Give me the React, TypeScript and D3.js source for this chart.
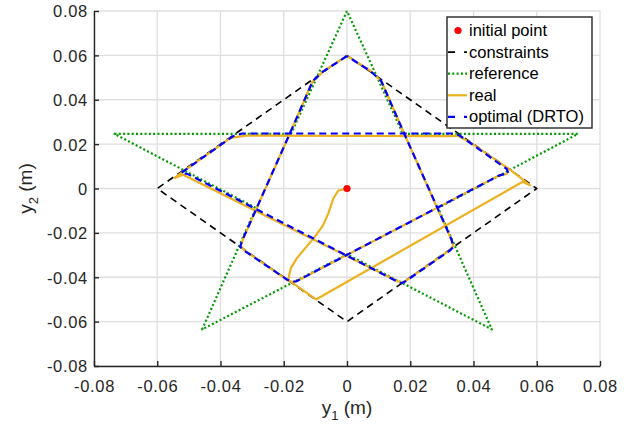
import React, { useEffect, useRef } from 'react';
import * as d3 from 'd3';

type Pt = [number, number];

// axis ticks (both axes share the same range)
const tickValues = [-0.08, -0.06, -0.04, -0.02, 0, 0.02, 0.04, 0.06, 0.08];

const legendLabels = ['initial point', 'constraints', 'reference', 'real', 'optimal (DRTO)'];

const initialPoint: Pt[] = [[0, 0]];

// diamond constraint set
const constraints: Pt[] = [[0, 0.06], [0.06, 0], [0, -0.06], [-0.06, 0], [0, 0.06]];

// star-shaped reference
const reference: Pt[] = [
  [0, 0.08], [-0.0177, 0.0246], [-0.0735, 0.0246], [-0.0288, -0.0088], [-0.0458, -0.0635],
  [0, -0.0297], [0.0458, -0.0635], [0.0288, -0.0088], [0.073, 0.0246], [0.0177, 0.0246], [0, 0.08],
];

// measured trajectory: transient from the initial point, then one lap
const realTransient: Pt[] = [
  [0, 0], [-0.0028, -0.001], [-0.0043, -0.0044], [-0.0059, -0.0112], [-0.0075, -0.0164],
  [-0.0101, -0.0217], [-0.0128, -0.0262], [-0.0159, -0.0315], [-0.0178, -0.036], [-0.0186, -0.0412],
  [-0.0098, -0.05], [0.0555, 0.003], [0.0578, 0.0015],
];

const realLap: Pt[] = [
  [0.0525, 0.0075], [0.039, 0.0208], [0.035, 0.0238], [0.032, 0.0236], [-0.032, 0.0238],
  [-0.0368, 0.0228], [-0.0515, 0.008], [-0.0545, 0.0048], [-0.0518, 0.0062], [0.016, -0.0418],
  [0.0175, -0.0425], [0.019, -0.0412], [0.0325, -0.0278], [0.0336, -0.0258], [0.0328, -0.0225],
  [0.018, 0.025], [0.011, 0.048], [0.0075, 0.053], [0.004, 0.0562], [0, 0.0598],
  [-0.004, 0.0562], [-0.0075, 0.0528], [-0.011, 0.048], [-0.018, 0.025], [-0.0328, -0.0225],
  [-0.0336, -0.0258], [-0.0325, -0.0278], [-0.019, -0.0412], [-0.0172, -0.0422], [-0.0155, -0.0415],
  [0.048, 0.0058], [0.0508, 0.0068],
];

// DRTO optimal path
const optimal: Pt[] = [
  [0, 0.0597], [-0.004, 0.056], [-0.0075, 0.0528], [-0.0108, 0.0485], [-0.018, 0.025],
  [-0.033, -0.023], [-0.0338, -0.0262], [-0.0325, -0.028], [-0.019, -0.041], [-0.0175, -0.042],
  [-0.016, -0.0418], [0.048, 0.0058], [0.051, 0.007], [0.0505, 0.0088], [0.039, 0.0205],
  [0.0355, 0.024], [0.033, 0.0248], [-0.033, 0.0248], [-0.036, 0.0236], [-0.051, 0.0085],
  [-0.0525, 0.007], [-0.0505, 0.0066], [0.016, -0.042], [0.0172, -0.0427], [0.0185, -0.0418],
  [0.0325, -0.028], [0.0337, -0.0262], [0.033, -0.0228], [0.018, 0.025], [0.0108, 0.0485],
  [0.0075, 0.0528], [0.004, 0.056], [0, 0.0597],
];

const W = 628;
const H = 428;
const FONT = '"Liberation Sans", Arial, Helvetica, sans-serif';
const INK = '#262626';

const StarChart: React.FC = () => {
  const svgRef = useRef<SVGSVGElement | null>(null);

  useEffect(() => {
    if (!svgRef.current) return;
    const svg = d3.select(svgRef.current);
    svg.selectAll('*').remove();

    const margin = { top: 11, right: 28, bottom: 62, left: 94 };
    const x = d3.scaleLinear().domain([-0.08, 0.08]).range([margin.left, W - margin.right]);
    const y = d3.scaleLinear().domain([-0.08, 0.08]).range([H - margin.bottom, margin.top]);
    const fmt = (v: number) => (Math.abs(v) < 1e-9 ? '0' : v.toFixed(2));

    svg.append('rect').attr('width', W).attr('height', H).attr('fill', '#fff');

    // grid
    const grid = svg.append('g').attr('stroke', '#dfdfdf').attr('stroke-width', 1.3);
    tickValues.forEach(t => {
      grid.append('line').attr('x1', x(t)).attr('x2', x(t)).attr('y1', y(-0.08)).attr('y2', y(0.08));
      grid.append('line').attr('y1', y(t)).attr('y2', y(t)).attr('x1', x(-0.08)).attr('x2', x(0.08));
    });

    // axes (left + bottom only, ticks pointing inward)
    const xAxis = svg.append('g')
      .attr('transform', `translate(0,${y(-0.08)})`)
      .call(d3.axisBottom(x).tickValues(tickValues).tickFormat(d => fmt(+d)).tickSizeInner(-5).tickSizeOuter(0).tickPadding(14));
    const yAxis = svg.append('g')
      .attr('transform', `translate(${x(-0.08)},0)`)
      .call(d3.axisLeft(y).tickValues(tickValues).tickFormat(d => fmt(+d)).tickSizeInner(-5).tickSizeOuter(0).tickPadding(6));
    [xAxis, yAxis].forEach(a => {
      a.select('.domain').attr('stroke', INK).attr('stroke-width', 1.4);
      a.selectAll('.tick line').attr('stroke', INK).attr('stroke-width', 1.4);
      a.selectAll('.tick text')
        .attr('fill', INK)
        .style('font-family', FONT)
        .style('font-size', '16.5px')
        .style('letter-spacing', '0.7px');
    });
    yAxis.selectAll('.tick text').attr('dy', '0.36em');

    // axis labels
    const xl = svg.append('text')
      .attr('x', x(0)).attr('y', 414)
      .attr('text-anchor', 'middle')
      .attr('fill', INK)
      .style('font-family', FONT).style('font-size', '19px');
    xl.append('tspan').text('y');
    xl.append('tspan').attr('dy', 6).style('font-size', '13px').text('1');
    xl.append('tspan').attr('dy', -6).text(' (m)');

    const yl = svg.append('text')
      .attr('transform', `translate(32,${y(0)}) rotate(-90)`)
      .attr('text-anchor', 'middle')
      .attr('fill', INK)
      .style('font-family', FONT).style('font-size', '19px');
    yl.append('tspan').text('y');
    yl.append('tspan').attr('dy', 6).style('font-size', '13px').text('2');
    yl.append('tspan').attr('dy', -6).text(' (m)');

    const line = d3.line<Pt>().x(d => x(d[0])).y(d => y(d[1]));
    const plot = svg.append('g').attr('fill', 'none').attr('stroke-linejoin', 'round');

    plot.append('path').attr('d', line(constraints))
      .attr('stroke', '#000').attr('stroke-width', 1.6).attr('stroke-dasharray', '7,5');
    plot.append('path').attr('d', line(reference))
      .attr('stroke', '#009a00').attr('stroke-width', 2.2).attr('stroke-dasharray', '2,2.3');
    plot.append('path').attr('d', line([...realTransient, ...realLap]))
      .attr('stroke', '#edb120').attr('stroke-width', 2.2);
    plot.append('path').attr('d', line(optimal))
      .attr('stroke', '#0000ff').attr('stroke-width', 2.2).attr('stroke-dasharray', '7,4.5');

    svg.selectAll('circle.init')
      .data(initialPoint)
      .enter()
      .append('circle')
      .attr('class', 'init')
      .attr('cx', d => x(d[0]))
      .attr('cy', d => y(d[1]))
      .attr('r', 3.6)
      .attr('fill', '#ff0000');

    // legend
    const lg = svg.append('g').attr('transform', 'translate(447,17)');
    lg.append('rect').attr('width', 145).attr('height', 111)
      .attr('fill', '#fff').attr('stroke', INK).attr('stroke-width', 1.4);
    legendLabels.forEach((label, i) => {
      const row = lg.append('g').attr('transform', `translate(0,${13.5 + i * 21.6})`);
      if (i === 0) {
        row.append('circle').attr('cx', 11).attr('cy', 0).attr('r', 3.6).attr('fill', '#ff0000');
      } else {
        const seg = row.append('line').attr('x1', 1).attr('x2', 20).attr('y1', 0).attr('y2', 0).attr('stroke-width', 2.2);
        if (i === 1) seg.attr('stroke', '#000').attr('stroke-width', 1.6).attr('stroke-dasharray', '7,9');
        if (i === 2) seg.attr('stroke', '#009a00').attr('stroke-dasharray', '2,2.3');
        if (i === 3) seg.attr('stroke', '#edb120');
        if (i === 4) seg.attr('stroke', '#0000ff').attr('stroke-dasharray', '7,9');
      }
      row.append('text')
        .attr('x', 22).attr('y', 5.5)
        .attr('fill', '#000')
        .style('font-family', FONT).style('font-size', '16.5px')
        .text(label);
    });
  }, []);

  return (
    <svg ref={svgRef} width={W} height={H} style={{ position: 'absolute', left: 0, top: 0 }} />
  );
};

export default function App() {
  return <StarChart />;
}
